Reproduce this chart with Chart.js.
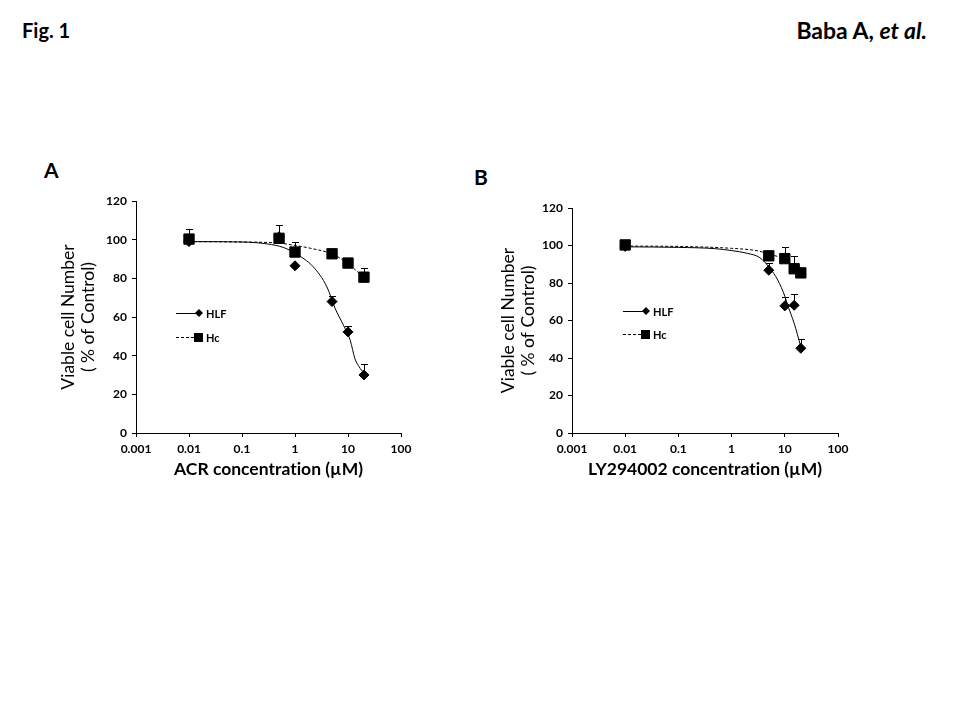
<!DOCTYPE html>
<html>
<head>
<meta charset="utf-8">
<script src="https://cdn.jsdelivr.net/npm/chart.js@4.4.1/dist/chart.umd.min.js"></script>
<style>
  body { margin: 0; background: #fff; width: 960px; height: 720px; position: relative; overflow: hidden; font-family: Lato, sans-serif; }
  .t { position: absolute; font-weight: bold; color: #000; line-height: 1; white-space: nowrap; }
  canvas { position: absolute; }
</style>
</head>
<body>
<div class="t" style="left:22px;top:20px;font-size:20px">Fig. 1</div>
<div class="t" style="right:33px;top:19px;font-size:23px">Baba A, <i>et al.</i></div>
<div class="t" style="left:44px;top:159px;font-size:21px">A</div>
<div class="t" style="left:474px;top:166px;font-size:21px">B</div>
<canvas id="chartA" width="390" height="310" style="left:40px;top:180px"></canvas>
<canvas id="chartB" width="391" height="310" style="left:476px;top:180px"></canvas>
<script>
const xTicks = [0.001, 0.01, 0.1, 1, 10, 100];
const xTickLabels = ['0.001', '0.01', '0.1', '1', '10', '100'];

// panel A - ACR
const concA = [0.01, 0.5, 1, 5, 10, 20];
const hlfA = [99, 101.5, 86.5, 68, 52.3, 30];
const hlfErrA = [0, 0, 0, 3, 3, 5.5];
const hcA = [100.3, 100.7, 93.6, 92.7, 87.9, 80.6];
const hcErrA = [5, 7, 5, 1, 1, 4.5];
// fitted curves
const fitHlfConcA = [0.01, 0.1, 0.3, 0.6, 1, 2.2, 4, 5.7, 8.2, 11, 13.5, 17, 20];
const fitHlfA = [99, 98.8, 97.8, 96, 93, 86, 75.6, 64.5, 55.8, 48, 38.5, 33.4, 31];
const fitHcConcA = [0.01, 0.1, 0.5, 1, 2, 5, 10, 15, 20];
const fitHcA = [99, 98.8, 98.2, 97, 95.5, 92.6, 87.7, 83.5, 81];

// panel B - LY294002
const concB = [0.01, 5, 10, 15, 20];
const hlfB = [99.5, 86.8, 67.8, 68.1, 45.2];
const hlfErrB = [0, 4, 5, 6, 5];
const hcB = [100.3, 94.5, 93, 87.6, 85.4];
const hcErrB = [0, 1, 6, 7, 0];
const fitHlfConcB = [0.01, 0.1, 0.5, 1, 2, 3.4, 5.2, 7.4, 10, 11.4, 15, 20];
const fitHlfB = [99.3, 99, 98.3, 97.3, 95.8, 93.5, 88, 81.5, 73, 68, 58.5, 46];
const fitHcConcB = [0.01, 0.1, 1, 3, 5, 10, 15, 20];
const fitHcB = [99.7, 99.5, 98.5, 97.2, 95.5, 92.5, 88.5, 85.5];

const pts = (xs, ys) => xs.map((x, i) => ({x: x, y: ys[i]}));

function diamond(ctx, x, y, r) {
  ctx.beginPath();
  ctx.moveTo(x - r, y); ctx.lineTo(x, y - r); ctx.lineTo(x + r, y); ctx.lineTo(x, y + r);
  ctx.closePath(); ctx.fill();
}

const errorBars = {
  id: 'errorBars',
  beforeDatasetsDraw(chart, args, opts) {
    const {ctx, scales: {x, y}} = chart;
    ctx.save();
    ctx.strokeStyle = '#000';
    ctx.lineWidth = 1;
    opts.sets.forEach(s => {
      s.values.forEach((v, i) => {
        if (!s.errors[i]) return;
        const px = Math.round(x.getPixelForValue(s.conc[i])) + 0.5;
        const py0 = y.getPixelForValue(v);
        const py1 = Math.round(y.getPixelForValue(v + s.errors[i])) + 0.5;
        ctx.beginPath();
        ctx.moveTo(px, py0); ctx.lineTo(px, py1);
        ctx.moveTo(px - 3.5, py1); ctx.lineTo(px + 3.5, py1);
        ctx.stroke();
      });
    });
    ctx.restore();
  }
};

const innerLegend = {
  id: 'innerLegend',
  afterDraw(chart, args, opts) {
    const {ctx, chartArea} = chart;
    const x0 = chartArea.left + opts.dx;
    const y1 = chartArea.top + opts.dy;
    const y2 = y1 + opts.gap;
    ctx.save();
    ctx.strokeStyle = '#000';
    ctx.fillStyle = '#000';
    ctx.lineWidth = 1;
    ctx.beginPath(); ctx.moveTo(x0, y1 + 0.5); ctx.lineTo(x0 + 22, y1 + 0.5); ctx.stroke();
    diamond(ctx, x0 + 23, y1, 4);
    ctx.setLineDash([3, 2]);
    ctx.beginPath(); ctx.moveTo(x0, y2 + 0.5); ctx.lineTo(x0 + 18, y2 + 0.5); ctx.stroke();
    ctx.setLineDash([]);
    ctx.fillRect(x0 + 18, y2 - 4, 9, 9);
    ctx.font = 'bold 11px Lato';
    ctx.textBaseline = 'middle';
    ctx.fillText('HLF', x0 + 30, y1 + 1);
    ctx.fillText('Hc', x0 + 30, y2 + 1);
    ctx.restore();
  }
};

function makeChart(id, d) {
  return new Chart(document.getElementById(id), {
    type: 'scatter',
    data: {
      datasets: [
        {data: pts(d.fitHlfConc, d.fitHlf), showLine: true, borderColor: '#000', borderWidth: 1,
          pointRadius: 0, cubicInterpolationMode: 'monotone'},
        {data: pts(d.fitHcConc, d.fitHc), showLine: true, borderColor: '#000', borderWidth: 1,
          borderDash: [3, 2], pointRadius: 0, cubicInterpolationMode: 'monotone'},
        {data: pts(d.conc, d.hlf), pointStyle: 'rectRot', pointRadius: 5,
          backgroundColor: '#000', borderColor: '#000'},
        {data: pts(d.conc, d.hc), pointStyle: 'rect', pointRadius: 7.3,
          backgroundColor: '#000', borderColor: '#000'}
      ]
    },
    options: {
      responsive: false,
      animation: false,
      layout: {padding: {top: d.padTop, right: 29, left: 0, bottom: 0}},
      plugins: {
        legend: {display: false},
        tooltip: {enabled: false},
        errorBars: {sets: [
          {conc: d.conc, values: d.hlf, errors: d.hlfErr},
          {conc: d.conc, values: d.hc, errors: d.hcErr}
        ]},
        innerLegend: d.legend
      },
      scales: {
        x: {
          type: 'logarithmic',
          min: 0.001,
          max: 100,
          afterBuildTicks: s => { s.ticks = xTicks.map(v => ({value: v})); },
          afterFit: s => { s.height = 57; },
          grid: {drawOnChartArea: false, tickLength: 4, color: '#000'},
          border: {color: '#000', width: 1},
          ticks: {color: '#000', padding: 5, maxRotation: 0, autoSkip: false,
            font: {family: 'Lato', size: 12, weight: 'bold'},
            callback: (v, i) => xTickLabels[i]},
          title: {display: true, text: d.xTitle, color: '#000', padding: {top: 0, bottom: 10},
            font: {family: 'Lato', size: 17.5, weight: 'bold'}}
        },
        y: {
          min: 0,
          max: 120,
          afterFit: s => { s.width = 96; },
          grid: {drawOnChartArea: false, tickLength: 4, color: '#000'},
          border: {color: '#000', width: 1},
          ticks: {stepSize: 20, color: '#000', padding: 5,
            font: {family: 'Lato', size: 12, weight: 'bold'}},
          title: {display: true, text: ['Viable cell Number', '( % of Control)'], color: '#000',
            padding: {top: d.titlePad, bottom: 0},
            font: {family: 'Lato', size: 17.5, lineHeight: 1.15}}
        }
      }
    },
    plugins: [errorBars, innerLegend]
  });
}

makeChart('chartA', {
  conc: concA, hlf: hlfA, hlfErr: hlfErrA, hc: hcA, hcErr: hcErrA,
  fitHlfConc: fitHlfConcA, fitHlf: fitHlfA, fitHcConc: fitHcConcA, fitHc: fitHcA,
  xTitle: 'ACR concentrat\u200cion (\u00b5M)', padTop: 21, titlePad: 18,
  legend: {dx: 40, dy: 112, gap: 24}
});

makeChart('chartB', {
  conc: concB, hlf: hlfB, hlfErr: hlfErrB, hc: hcB, hcErr: hcErrB,
  fitHlfConc: fitHlfConcB, fitHlf: fitHlfB, fitHcConc: fitHcConcB, fitHc: fitHcB,
  xTitle: 'LY294002 concentrat\u200cion (\u00b5M)', padTop: 28, titlePad: 22,
  legend: {dx: 51, dy: 103, gap: 23}
});
</script>
</body>
</html>
